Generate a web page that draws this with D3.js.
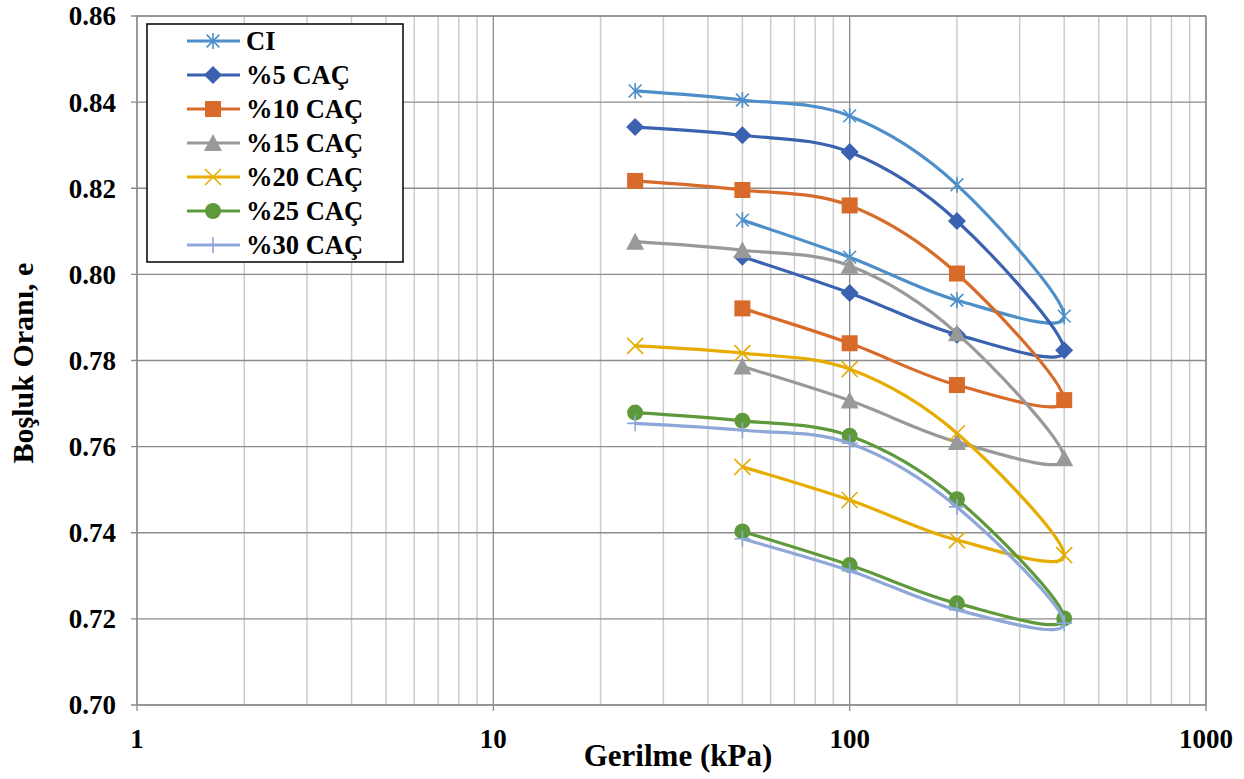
<!DOCTYPE html>
<html><head><meta charset="utf-8">
<script src="https://cdn.jsdelivr.net/npm/d3@7"></script>
<style>body{margin:0;background:#fff}</style></head>
<body>
<svg id="chart" width="1244" height="779"></svg>
<script>
// ---- data ----
const stress = [25, 50, 100, 200, 400, 200, 100, 50];
const seriesNames = ["CI", "%5 CAÇ", "%10 CAÇ", "%15 CAÇ", "%20 CAÇ", "%25 CAÇ", "%30 CAÇ"];
const ciValues   = [0.8426, 0.8405, 0.8368, 0.8208, 0.7903, 0.7940, 0.8040, 0.8126];
const caq5Values = [0.8342, 0.8323, 0.8284, 0.8124, 0.7824, 0.7860, 0.7957, 0.8041];
const caq10Values= [0.8217, 0.8196, 0.8160, 0.8002, 0.7708, 0.7743, 0.7840, 0.7921];
const caq15Values= [0.8076, 0.8056, 0.8020, 0.7863, 0.7573, 0.7611, 0.7707, 0.7786];
const caq20Values= [0.7834, 0.7817, 0.7780, 0.7631, 0.7348, 0.7383, 0.7476, 0.7553];
const caq25Values= [0.7679, 0.7660, 0.7625, 0.7478, 0.7201, 0.7236, 0.7325, 0.7403];
const caq30Values= [0.7654, 0.7638, 0.7608, 0.7460, 0.7190, 0.7221, 0.7312, 0.7386];
const xTicks = [1, 10, 100, 1000];
const yTicks = [0.70, 0.72, 0.74, 0.76, 0.78, 0.80, 0.82, 0.84, 0.86];

const allValues = [ciValues, caq5Values, caq10Values, caq15Values, caq20Values, caq25Values, caq30Values];
const colors = ["#4E8FC9", "#3A62B0", "#D86A2A", "#999999", "#E6AC00", "#5E9A3B", "#8EA7D9"];
const markers = ["star", "diamond", "square", "triangle", "x", "circle", "plus"];

const svg = d3.select("#chart");
const L = 137, R = 1206, T = 16, B = 705;
const x = d3.scaleLog().domain([1, 1000]).range([L, R]);
const y = d3.scaleLinear().domain([0.70, 0.86]).range([B, T]);
const font = "'Liberation Serif','Times New Roman',serif";

// minor vertical grid
const minor = [];
for (let k = 0; k < 3; k++) for (let m = 2; m <= 9; m++) minor.push(m * Math.pow(10, k));
svg.append("g").selectAll("line").data(minor).join("line")
  .attr("x1", d => x(d)).attr("x2", d => x(d)).attr("y1", T).attr("y2", B)
  .attr("stroke", "#cccccc").attr("stroke-width", 1.5);
// major verticals
svg.append("g").selectAll("line").data(xTicks).join("line")
  .attr("x1", d => x(d)).attr("x2", d => x(d)).attr("y1", T).attr("y2", B + 6)
  .attr("stroke", "#8c8c8c").attr("stroke-width", 1.3);
// horizontal grid
svg.append("g").selectAll("line").data(yTicks).join("line")
  .attr("x1", L - 6).attr("x2", R).attr("y1", d => y(d)).attr("y2", d => y(d))
  .attr("stroke", "#8c8c8c").attr("stroke-width", 1.3);

// tick labels
svg.append("g").selectAll("text").data(yTicks).join("text")
  .attr("x", 116).attr("y", d => y(d)).attr("dy", "0.35em")
  .attr("text-anchor", "end").attr("font-family", font).attr("font-weight", "bold")
  .attr("font-size", 27).text(d => d.toFixed(2));
svg.append("g").selectAll("text").data(xTicks).join("text")
  .attr("x", d => x(d)).attr("y", 748)
  .attr("text-anchor", "middle").attr("font-family", font).attr("font-weight", "bold")
  .attr("font-size", 27).text(d => d);

// axis titles
svg.append("text").attr("x", 678).attr("y", 766).attr("text-anchor", "middle")
  .attr("font-family", font).attr("font-weight", "bold").attr("font-size", 31).text("Gerilme (kPa)");
svg.append("text").attr("transform", "translate(33,363) rotate(-90)").attr("text-anchor", "middle")
  .attr("font-family", font).attr("font-weight", "bold").attr("font-size", 30).text("Boşluk Oranı, e");

function drawMarker(g, type, color) {
  const s = 8;
  if (type === "star") {
    g.append("path").attr("d", `M0,${-s}V${s}M${-s*0.8},${-s*0.8}L${s*0.8},${s*0.8}M${s*0.8},${-s*0.8}L${-s*0.8},${s*0.8}`)
      .attr("stroke", color).attr("stroke-width", 1.6).attr("fill", "none");
  } else if (type === "diamond") {
    g.append("path").attr("d", `M0,${-s-1}L${s+1},0L0,${s+1}L${-s-1},0Z`).attr("fill", color);
  } else if (type === "square") {
    g.append("rect").attr("x", -s).attr("y", -s).attr("width", 2*s).attr("height", 2*s).attr("fill", color);
  } else if (type === "triangle") {
    g.append("path").attr("d", `M0,${-s-1}L${s+1},${s}L${-s-1},${s}Z`).attr("fill", color);
  } else if (type === "x") {
    g.append("path").attr("d", `M${-s},${-s}L${s},${s}M${s},${-s}L${-s},${s}`)
      .attr("stroke", color).attr("stroke-width", 1.6).attr("fill", "none");
  } else if (type === "circle") {
    g.append("circle").attr("r", s).attr("fill", color);
  } else if (type === "plus") {
    g.append("path").attr("d", `M0,${-s}V${s}M${-s},0H${s}`)
      .attr("stroke", color).attr("stroke-width", 1.6).attr("fill", "none");
  }
}

const line = d3.line().x(d => x(d[0])).y(d => y(d[1])).curve(d3.curveCatmullRom.alpha(0));
allValues.forEach((vals, i) => {
  const pts = stress.map((s, j) => [s, vals[j]]);
  svg.append("path").datum(pts).attr("d", line).attr("fill", "none")
    .attr("stroke", colors[i]).attr("stroke-width", 3.2);
  pts.forEach(p => {
    const g = svg.append("g").attr("transform", `translate(${x(p[0])},${y(p[1])})`);
    drawMarker(g, markers[i], colors[i]);
  });
});

// plot border (top/right)
svg.append("rect").attr("x", L).attr("y", T).attr("width", R - L).attr("height", B - T)
  .attr("fill", "none").attr("stroke", "#8c8c8c").attr("stroke-width", 1.3);

// legend
const lg = svg.append("g");
lg.append("rect").attr("x", 147).attr("y", 24).attr("width", 256).attr("height", 238)
  .attr("fill", "#fff").attr("stroke", "#000").attr("stroke-width", 1.5);
seriesNames.forEach((name, i) => {
  const cy = 41 + i * 34;
  lg.append("line").attr("x1", 187).attr("x2", 240).attr("y1", cy).attr("y2", cy)
    .attr("stroke", colors[i]).attr("stroke-width", 3.2);
  drawMarker(lg.append("g").attr("transform", `translate(213,${cy})`), markers[i], colors[i]);
  lg.append("text").attr("x", 246).attr("y", cy).attr("dy", "0.35em")
    .attr("font-family", font).attr("font-weight", "bold").attr("font-size", 26.5).text(name);
});
</script>
</body></html>
